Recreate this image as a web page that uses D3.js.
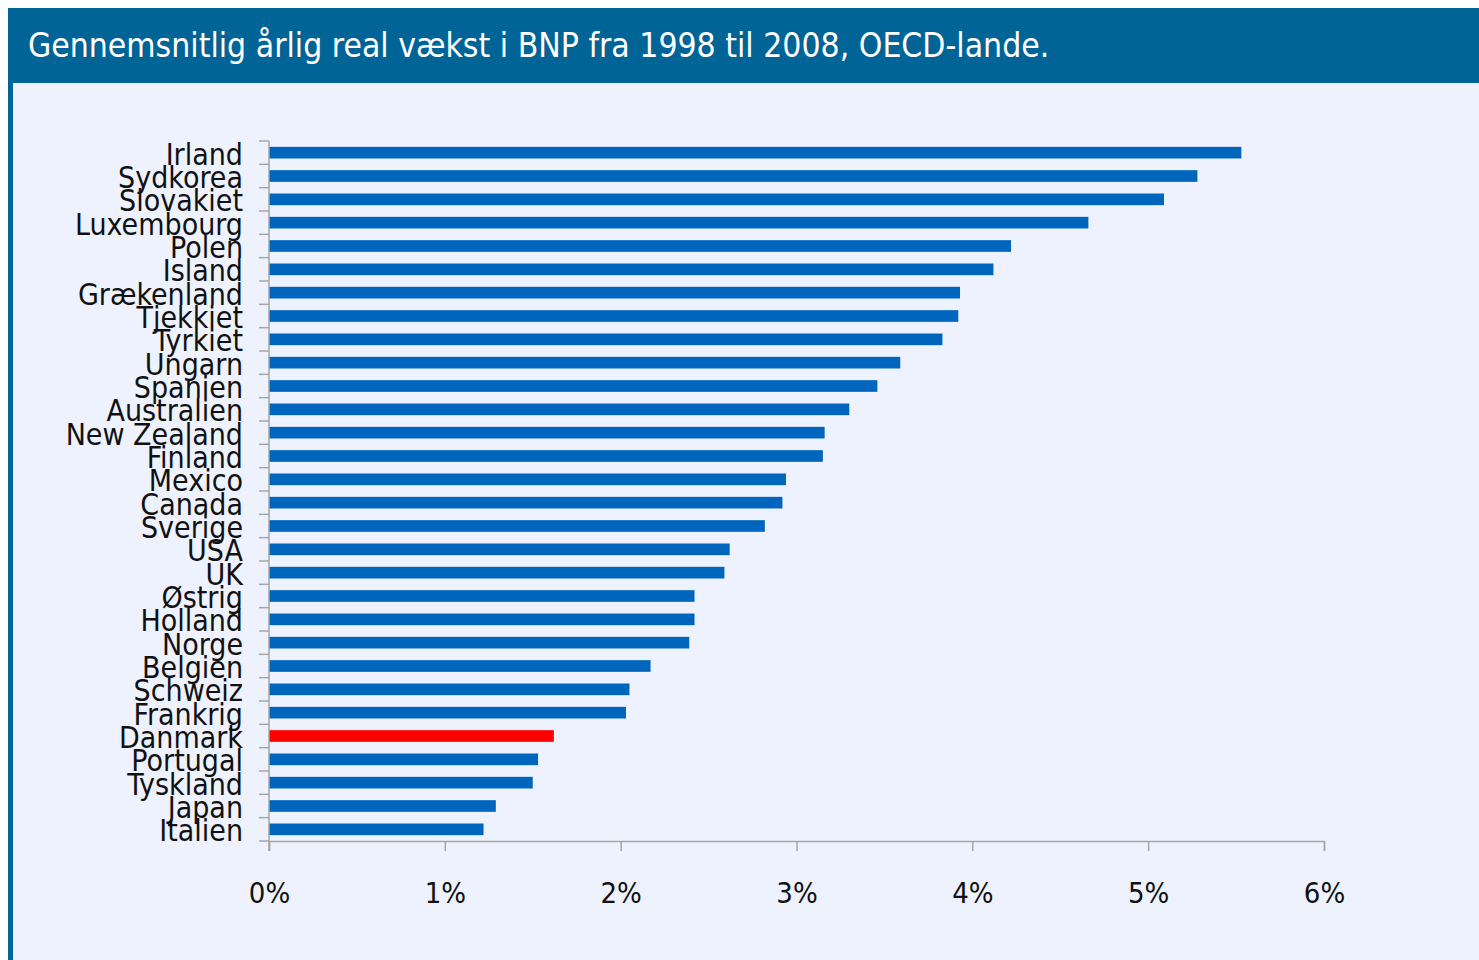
<!DOCTYPE html>
<html>
<head>
<meta charset="utf-8">
<script src="https://cdn.jsdelivr.net/npm/d3@7"></script>
<style>
  body { margin: 0; background: #fff; }
  #chart { width: 1479px; height: 960px; }
</style>
</head>
<body>
<div id="chart"></div>
<script>
const countries = ["Irland", "Sydkorea", "Slovakiet", "Luxembourg", "Polen", "Island", "Grækenland", "Tjekkiet", "Tyrkiet", "Ungarn", "Spanien", "Australien", "New Zealand", "Finland", "Mexico", "Canada", "Sverige", "USA", "UK", "Østrig", "Holland", "Norge", "Belgien", "Schweiz", "Frankrig", "Danmark", "Portugal", "Tyskland", "Japan", "Italien"];
const growth = [5.53, 5.28, 5.09, 4.66, 4.22, 4.12, 3.93, 3.92, 3.83, 3.59, 3.46, 3.30, 3.16, 3.15, 2.94, 2.92, 2.82, 2.62, 2.59, 2.42, 2.42, 2.39, 2.17, 2.05, 2.03, 1.62, 1.53, 1.50, 1.29, 1.22];
const xTicks = [0, 1, 2, 3, 4, 5, 6];
const highlight = "Danmark";
const title = "Gennemsnitlig årlig real vækst i BNP fra 1998 til 2008, OECD-lande.";

const data = countries.map((c, i) => ({ country: c, value: growth[i] }));

const W = 1479, H = 960;
const font = "'DejaVu Sans Condensed', 'Liberation Sans Narrow', sans-serif";
const svg = d3.select("#chart").append("svg")
  .attr("width", W).attr("height", H);

// panel + header
svg.append("rect").attr("x", 8).attr("y", 8).attr("width", W - 8).attr("height", H - 8).attr("fill", "#006496");
svg.append("rect").attr("x", 13).attr("y", 83).attr("width", W - 13).attr("height", H - 83).attr("fill", "#EEF2FE");
svg.append("text")
  .attr("x", 28).attr("y", 57)
  .attr("fill", "#fff")
  .style("font-family", font)
  .style("font-size", "33.4px")
  .text(title);

const margin = { top: 141, left: 269 };
const width = 1324 - 269, height = 841 - 141;

const g = svg.append("g").attr("transform", `translate(${margin.left},${margin.top})`);

const x = d3.scaleLinear().domain([0, 6]).range([0, width]);
const y = d3.scaleBand().domain(countries).range([0, height]).paddingInner(0.5).paddingOuter(0.25);

g.selectAll(".bar")
  .data(data)
  .enter()
  .append("rect")
  .attr("class", "bar")
  .attr("x", 0)
  .attr("y", d => y(d.country))
  .attr("width", d => x(d.value))
  .attr("height", y.bandwidth())
  .attr("fill", d => d.country === highlight ? "#FF0000" : "#0066BD");

// y axis: line + ticks at category boundaries
const bounds = d3.range(countries.length + 1).map(i => i * height / countries.length);
g.append("line").attr("x1", 0).attr("x2", 0).attr("y1", 0).attr("y2", height + 10)
  .attr("stroke", "#A6A6A6").attr("stroke-width", 1.5);
g.selectAll(".ytick").data(bounds).enter().append("line")
  .attr("x1", -10).attr("x2", 0).attr("y1", d => d).attr("y2", d => d)
  .attr("stroke", "#A6A6A6").attr("stroke-width", 1.5);

g.selectAll(".ylab").data(countries).enter().append("text")
  .attr("x", -26)
  .attr("y", d => y(d) + y.bandwidth() / 2)
  .attr("dy", "0.4em")
  .attr("text-anchor", "end")
  .style("font-family", font)
  .style("font-size", "30px")
  .attr("fill", "#111")
  .text(d => d);

// x axis
const xAxis = g.append("g")
  .attr("transform", `translate(0,${height})`)
  .call(d3.axisBottom(x).tickValues(xTicks).tickSize(10).tickPadding(31).tickFormat(d => d + "%"));
xAxis.select(".domain").attr("stroke", "#A6A6A6").attr("stroke-width", 1.5);
xAxis.selectAll(".tick line").attr("stroke", "#A6A6A6").attr("stroke-width", 1.5);
xAxis.selectAll(".tick text")
  .style("font-family", font)
  .style("font-size", "29px")
  .attr("fill", "#111");
</script>
</body>
</html>
